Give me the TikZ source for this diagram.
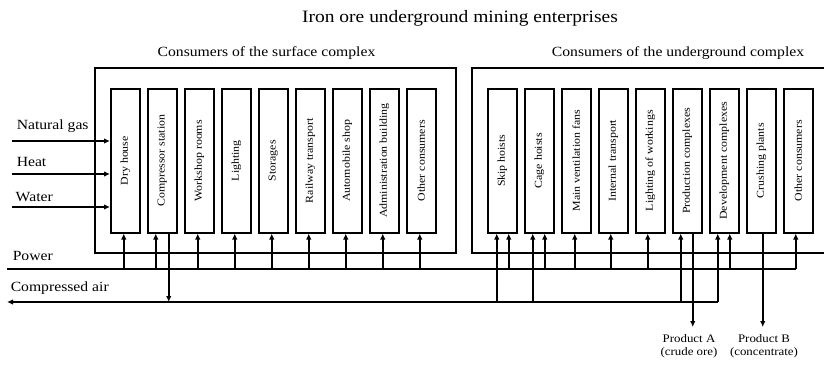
\documentclass[tikz,border=0pt]{standalone}
\usepackage{fontspec}
\setmainfont{Liberation Serif}[FakeStretch=1.12]
\usetikzlibrary{arrows.meta}
\begin{document}
\begin{tikzpicture}[x=1pt,y=-1pt,line width=1.5pt,
  cbox/.style={draw,minimum width=29pt,minimum height=144pt,inner sep=0pt,anchor=north west,
    font=\fontsize{10.6}{12}\selectfont},
  outer/.style={draw,minimum height=185pt,inner sep=0pt,anchor=north west},
  arr/.style={-{Latex[length=6pt,width=5.5pt]}},
  lbl/.style={font=\fontsize{14}{16}\selectfont,anchor=base west,inner sep=0pt},
  head/.style={font=\fontsize{14}{16}\selectfont,anchor=base,inner sep=0pt},
  prod/.style={font=\fontsize{11.5}{12.5}\selectfont,align=center,anchor=north,inner sep=0pt}]
\useasboundingbox (0,0) rectangle (824,364);

% titles
\node[font=\fontsize{17.4}{20}\selectfont,anchor=base,inner sep=0pt] (title) at (460,23) {Iron ore underground mining enterprises};
\node[head] (hs) at (266.5,56) {Consumers of the surface complex};
\node[head] (hu) at (678,56) {Consumers of the underground complex};

% outer boxes
\node[outer,minimum width=361pt] (surf) at (94,67) {};
\node[outer,minimum width=370pt] (under) at (471,67) {};

% surface consumers
\foreach \i/\n/\t in {0/dry/Dry house,1/comp/Compressor station,2/work/Workshop rooms,
  3/light/Lighting,4/stor/Storages,5/rail/Railway transport,6/auto/Automobile shop,
  7/adm/Administration building,8/oth/Other consumers}
  \node[cbox] (\n) at (110+37*\i,88) {\rotatebox{90}{\t}};

% underground consumers
\foreach \i/\n/\t in {0/skip/Skip hoists,1/cage/Cage hoists,2/fans/Main ventilation fans,
  3/int/Internal transport,4/lw/Lighting of workings,5/pc/Production complexes,
  6/dc/Development complexes,7/cp/Crushing plants,8/ou/Other consumers}
  \node[cbox] (\n) at (487+37*\i,88) {\rotatebox{90}{\t}};

% bus coordinates
\coordinate (pw) at (0,269);
\coordinate (pwL) at (7,269);
\coordinate (air) at (0,302);
\coordinate (airL) at (7,302);

% inputs
\node[lbl] (ngl) at (16,129) {Natural gas};
\node[lbl] (htl) at (16,166) {Heat};
\node[lbl] (wtl) at (15,201) {Water};
\node[lbl] (pwl) at (12,260) {Power};
\node[lbl] (arl) at (10,291) {Compressed air};
\coordinate (ng) at (12,141);
\coordinate (ht) at (12,174);
\coordinate (wt) at (12,207);
\draw[arr] (ng) -- (ng -| dry.west);
\draw[arr] (ht) -- (ht -| dry.west);
\draw[arr] (wt) -- (wt -| dry.west);

% power line
\draw (pwL) -- ([xshift=-2.5pt]ou.south |- pw);
\foreach \n/\d in {dry/-1.5,comp/-6.5,work/-1.5,light/-1.5,stor/-1.5,rail/-1.5,auto/-1.5,adm/-1.5,oth/-1.5,
  skip/6.5,cage/5.5,fans/-1.5,int/-2.5,lw/-2.5,dc/5.5,ou/-2.5}
  \draw[arr] ([xshift=\d pt]\n.south |- pw) -- ([xshift=\d pt]\n.south);

% compressed air line
\draw[arr] ([xshift=-6.5pt]dc.south |- air) -- (airL);
\draw[arr] ([xshift=6.5pt]comp.south) -- ([xshift=6.5pt]comp.south |- air);
\foreach \n/\d in {skip/-5.5,cage/-6.5,pc/-6.5,dc/-6.5}
  \draw[arr] ([xshift=\d pt]\n.south |- air) -- ([xshift=\d pt]\n.south);

% products
\node[prod] (pa) at (689,334) {Product A\\(crude ore)};
\node[prod] (pb) at (764,334) {Product B\\(concentrate)};
\draw[arr] ([xshift=5.5pt]pc.south) -- ([xshift=5.5pt]pc.south |- 0,327);
\draw[arr] ([xshift=1.5pt]cp.south) -- ([xshift=1.5pt]cp.south |- 0,327);
\end{tikzpicture}
\end{document}
